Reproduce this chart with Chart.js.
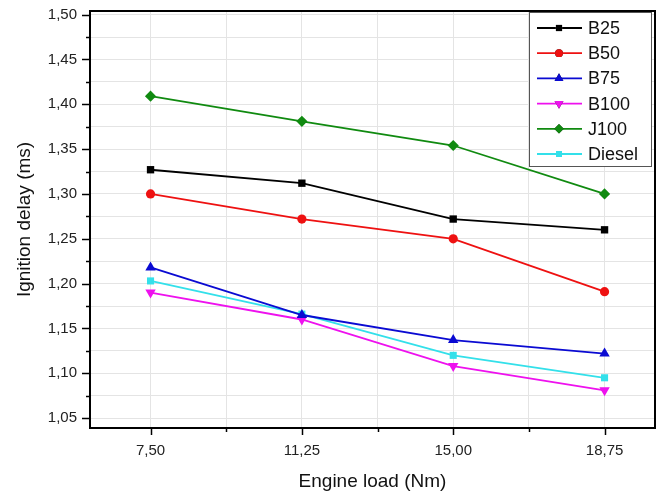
<!DOCTYPE html>
<html>
<head>
<meta charset="utf-8">
<script src="https://cdn.jsdelivr.net/npm/chart.js@4.4.1/dist/chart.umd.min.js"></script>
<style>
  html, body { margin: 0; padding: 0; background: #fff; }
  #wrap { width: 662px; height: 496px; }
</style>
</head>
<body>
<div id="wrap"><canvas id="lineChart" width="662" height="496"></canvas></div>
<script>
// engine load (Nm)
var loads = [7.50, 11.25, 15.00, 18.75];
// ignition delay (ms) per fuel
var b25 = [1.327, 1.312, 1.272, 1.260];
var b50 = [1.300, 1.272, 1.250, 1.191];
var b75 = [1.218, 1.165, 1.137, 1.122];
var b100 = [1.190, 1.160, 1.108, 1.081];
var j100 = [1.409, 1.381, 1.354, 1.300];
var diesel = [1.203, 1.166, 1.120, 1.095];

var FONT = '"Liberation Sans", Arial, sans-serif';

function pts(vals) {
  return vals.map(function (v, i) { return { x: loads[i], y: v }; });
}
function comma(v) {
  return v.toFixed(2).replace('.', ',');
}

function series(label, vals, color, style, rot, radius) {
  return {
    label: label,
    data: pts(vals),
    borderColor: color,
    backgroundColor: color,
    borderWidth: 1.8,
    pointStyle: style,
    rotation: rot,
    pointRadius: radius,
    pointBorderWidth: 0,
    pointHoverRadius: radius,
    tension: 0
  };
}

// frame, tick marks (long major / short minor) and the boxed legend
var frameAndLegend = {
  id: 'frameAndLegend',
  afterDraw: function (chart) {
    var c = chart.ctx, a = chart.chartArea;
    c.save();
    c.strokeStyle = '#000';
    c.lineWidth = 2;
    c.beginPath();
    c.moveTo(a.left, a.top);
    c.lineTo(a.right, a.top);
    c.lineTo(a.right, a.bottom);
    c.stroke();

    c.lineWidth = 1.5;
    var xs = chart.scales.x, ys = chart.scales.y;
    xs.ticks.forEach(function (t) {
      var px = Math.round(xs.getPixelForValue(t.value)) + 0.5;
      var len = t.label ? 7 : 4;
      c.beginPath();
      c.moveTo(px, a.bottom);
      c.lineTo(px, a.bottom + len);
      c.stroke();
    });
    ys.ticks.forEach(function (t) {
      var py = Math.round(ys.getPixelForValue(t.value)) + 0.5;
      var len = t.label ? 8 : 4;
      c.beginPath();
      c.moveTo(a.left, py);
      c.lineTo(a.left - len, py);
      c.stroke();
    });

    var w = 122, h = 154;
    var x0 = a.right - w - 4, y0 = a.top + 1;
    c.fillStyle = '#fff';
    c.fillRect(x0, y0, w, h);
    c.lineWidth = 1;
    c.strokeStyle = '#555';
    c.strokeRect(x0 + 0.5, y0 + 0.5, w, h);
    c.font = '18px ' + FONT;
    c.textBaseline = 'middle';
    chart.data.datasets.forEach(function (ds, i) {
      var y = y0 + 16 + i * 25.2;
      c.strokeStyle = ds.borderColor;
      c.lineWidth = 1.8;
      c.beginPath();
      c.moveTo(x0 + 8, y);
      c.lineTo(x0 + 53, y);
      c.stroke();
      Chart.helpers.drawPoint(c, {
        pointStyle: ds.pointStyle, rotation: ds.rotation, radius: ds.pointRadius * 0.85, borderWidth: 0
      }, x0 + 30, y);
      c.fillStyle = ds.borderColor;
      c.fill();
      c.fillStyle = '#111';
      c.fillText(ds.label, x0 + 59, y + 1);
    });
    c.restore();
  }
};

var ctx = document.getElementById('lineChart').getContext('2d');
var myLineChart = new Chart(ctx, {
  type: 'line',
  data: {
    datasets: [
      series('B25', b25, '#000000', 'rect', 0, 5.2),
      series('B50', b50, '#ee1111', 'circle', 0, 4.6),
      series('B75', b75, '#0a0ad2', 'triangle', 0, 6),
      series('B100', b100, '#ee11ee', 'triangle', 180, 6),
      series('J100', j100, '#108a10', 'rectRot', 0, 5.6),
      series('Diesel', diesel, '#33e0ea', 'rect', 0, 5)
    ]
  },
  options: {
    responsive: false,
    animation: false,
    layout: { padding: { top: 11, right: 7, left: 0, bottom: 0 } },
    plugins: {
      legend: { display: false },
      tooltip: { enabled: false }
    },
    scales: {
      x: {
        type: 'linear',
        min: 6,
        max: 20,
        afterFit: function (s) {
          s.height = 68;
          s.paddingLeft = 0;
          s.paddingRight = 0;
        },
        border: { color: '#000', width: 2 },
        grid: {
          color: '#e4e4e4',
          lineWidth: 1,
          drawTicks: false
        },
        ticks: {
          stepSize: 1.875,
          includeBounds: false,
          autoSkip: false,
          maxRotation: 0,
          color: '#222',
          padding: 14,
          font: { size: 15, family: FONT },
          callback: function (v) {
            return Math.round(v * 1000) % 3750 === 0 ? comma(v) : '';
          }
        },
        title: {
          display: true,
          text: 'Engine load (Nm)',
          color: '#111',
          padding: { top: 0, bottom: 3 },
          font: { size: 19, family: FONT }
        }
      },
      y: {
        min: 1.039,
        max: 1.504,
        afterFit: function (s) {
          s.width = 90;
          s.paddingTop = 0;
          s.paddingBottom = 0;
        },
        border: { color: '#000', width: 2 },
        grid: {
          color: '#e4e4e4',
          lineWidth: 1,
          drawTicks: false
        },
        ticks: {
          stepSize: 0.025,
          includeBounds: false,
          autoSkip: false,
          color: '#222',
          padding: 13,
          font: { size: 15, family: FONT },
          callback: function (v) {
            return Math.round(v * 1000) % 50 === 0 ? comma(v) : '';
          }
        },
        title: {
          display: true,
          text: 'Ignition delay (ms)',
          color: '#111',
          padding: { top: 13, bottom: 0 },
          font: { size: 19, family: FONT }
        }
      }
    }
  },
  plugins: [frameAndLegend]
});
</script>
</body>
</html>
